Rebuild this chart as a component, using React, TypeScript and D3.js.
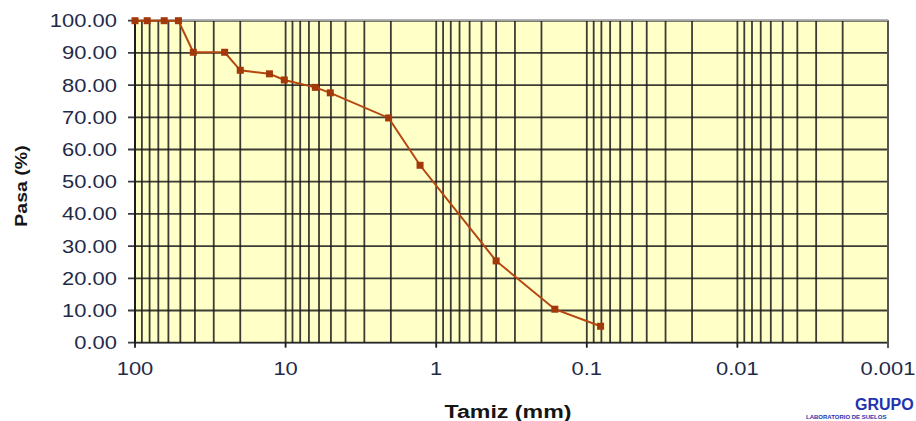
import React from "react";
import * as d3 from "d3";

const sieveSizes: number[] = [100, 83, 64, 51.5, 41, 25.4, 20, 12.8, 10.2, 6.35, 5.05, 2.07, 1.28, 0.4, 0.163, 0.081];
const passing: number[] = [100, 100, 100, 100, 90.2, 90.2, 84.6, 83.5, 81.6, 79.3, 77.6, 69.8, 55.1, 25.4, 10.4, 5.1];
const yTicks: number[] = [0, 10, 20, 30, 40, 50, 60, 70, 80, 90, 100];
const xTicks: number[] = [100, 10, 1, 0.1, 0.01, 0.001];
const xTickLabels: string[] = ["100", "10", "1", "0.1", "0.01", "0.001"];

const W = 916;
const H = 421;
const left = 135;
const right = 888;
const top = 20.7;
const bottom = 342.7;

export default function App() {
  const x = d3.scaleLog().domain([100, 0.001]).range([left, right]);
  const y = d3.scaleLinear().domain([0, 100]).range([bottom, top]);

  const minor: number[] = [];
  for (let e = -3; e <= 1; e++) {
    for (let k = 1; k <= 9; k++) {
      const v = k * Math.pow(10, e);
      if (v >= 0.001 && v <= 100) minor.push(v);
    }
  }
  minor.push(100);

  const line = d3
    .line<number>()
    .x((_, i) => x(sieveSizes[i]))
    .y((d) => y(d));

  const labelFont = "'Liberation Sans', Arial, sans-serif";
  const labelColor = "#1f2b48";
  const sx = 1.22;
  const gridColor = "#1a1a1a";

  return (
    <svg width={W} height={H} style={{ position: "absolute", left: 0, top: 0, background: "#fff" }}>
      <rect x={left} y={top} width={right - left} height={bottom - top} fill="#FFFFC8" stroke="#8a8a8a" strokeWidth={1.5} />
      {yTicks.map((t) => (
        <line key={"h" + t} x1={left - 7} x2={right} y1={y(t)} y2={y(t)} stroke={gridColor} strokeWidth={1.8} strokeOpacity={0.85} />
      ))}
      {minor.map((v, i) => (
        <line key={"v" + i} x1={x(v)} x2={x(v)} y1={top} y2={bottom} stroke={gridColor} strokeWidth={1.8} strokeOpacity={0.85} />
      ))}
      {xTicks.map((t) => (
        <line key={"xt" + t} x1={x(t)} x2={x(t)} y1={bottom} y2={bottom + 5} stroke={gridColor} strokeWidth={1.8} />
      ))}
      <line x1={left} x2={left} y1={top} y2={bottom} stroke={gridColor} strokeWidth={1.8} />
      <line x1={right} x2={right} y1={top} y2={bottom + 5} stroke="#5a5a5a" strokeWidth={1.8} />
      <line x1={left} x2={right} y1={top - 0.5} y2={top - 0.5} stroke="#a0a0a0" strokeWidth={1.5} />

      <path d={line(passing) || ""} fill="none" stroke="#B5460F" strokeWidth={2} />
      {passing.map((p, i) => (
        <rect key={"m" + i} x={x(sieveSizes[i]) - 3.5} y={y(p) - 3.5} width={7} height={7} fill="#A3380A" />
      ))}

      {yTicks.map((t) => (
        <text
          key={"yl" + t}
          transform={`translate(117,${y(t) + 6.5}) scale(${sx},1)`}
          textAnchor="end"
          fontFamily={labelFont}
          fontSize={18}
          fill={labelColor}
        >
          {t.toFixed(2)}
        </text>
      ))}
      {xTicks.map((t, i) => (
        <text
          key={"xl" + t}
          transform={`translate(${x(t)},375) scale(${sx},1)`}
          textAnchor="middle"
          fontFamily={labelFont}
          fontSize={18}
          fill={labelColor}
        >
          {xTickLabels[i]}
        </text>
      ))}

      <text
        transform={`translate(27,186) rotate(-90) scale(1.15,1)`}
        textAnchor="middle"
        fontFamily={labelFont}
        fontSize={17}
        fontWeight="bold"
        fill="#151515"
      >
        Pasa (%)
      </text>
      <text
        transform={`translate(508,418) scale(1.22,1)`}
        textAnchor="middle"
        fontFamily={labelFont}
        fontSize={19}
        fontWeight="bold"
        fill="#151515"
      >
        Tamiz (mm)
      </text>

      <text x={855} y={410} fontFamily={labelFont} fontSize={16} fontWeight="bold" fill="#2233b0">
        GRUPO
      </text>
      <text x={806} y={419} fontFamily={labelFont} fontSize={6} fontWeight="bold" fill="#2233b0">
        LABORATORIO DE SUELOS
      </text>
    </svg>
  );
}
